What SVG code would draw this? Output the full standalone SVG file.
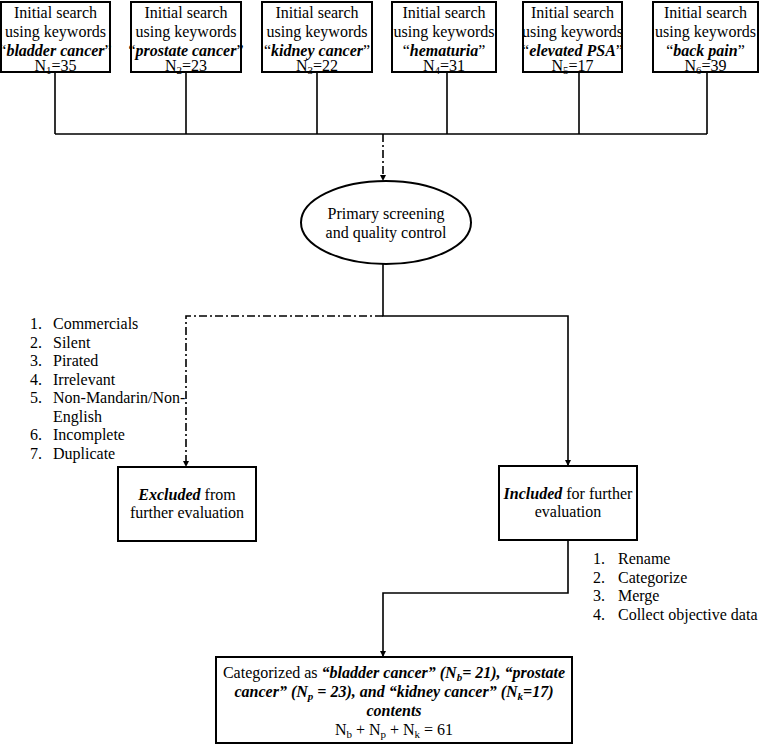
<svg xmlns="http://www.w3.org/2000/svg" width="764" height="746" viewBox="0 0 764 746" font-family="'Liberation Serif', 'Times New Roman', Tinos, 'DejaVu Serif', serif" font-size="16">
<defs>
<marker id="arr" viewBox="0 0 10 10" refX="10" refY="5" markerWidth="6" markerHeight="6" orient="auto" markerUnits="userSpaceOnUse">
<path d="M0,0 L10,5 L0,10 z" fill="#000"/>
</marker>
<style>
text{fill:#000}
.c{text-anchor:middle}
.bi{font-weight:bold;font-style:italic}
.box{fill:#fff;stroke:#000;stroke-width:2}
.ln{fill:none;stroke:#000;stroke-width:1.6}
.dd{fill:none;stroke:#000;stroke-width:1.6;stroke-dasharray:8 3 2 3}
.sub{font-size:11px}
</style>
</defs>
<rect width="764" height="746" fill="#fff"/>

<g id="connectors">
<path class="ln" d="M55,72 V134 M186,72 V134 M317,72 V134 M447,72 V134 M579,72 V134 M707,72 V134 M55,134 H707"/>
<path class="dd" d="M383,134 V181" marker-end="url(#arr)"/>
<path class="ln" d="M383,264 V316 H568 V466" marker-end="url(#arr)"/>
<path class="dd" d="M383,316 H186 V467" marker-end="url(#arr)"/>
<path class="ln" d="M568,540 V593 H383 V657" marker-end="url(#arr)"/>
</g>

<g id="n1">
<rect class="box" x="1" y="2" width="109" height="70"/>
<text class="c" x="55.5" y="18">Initial search</text>
<text class="c" x="55.5" y="37">using keywords</text>
<text class="c" x="55.5" y="56">“<tspan class="bi">bladder cancer</tspan>”</text>
<text class="c" x="55.5" y="71">N<tspan class="sub" dy="3">1</tspan><tspan dy="-3">=35</tspan></text>
</g>
<g id="n2">
<rect class="box" x="131" y="2" width="110" height="70"/>
<text class="c" x="186" y="18">Initial search</text>
<text class="c" x="186" y="37">using keywords</text>
<text class="c" x="186" y="56">“<tspan class="bi">prostate cancer</tspan>”</text>
<text class="c" x="186" y="71">N<tspan class="sub" dy="3">2</tspan><tspan dy="-3">=23</tspan></text>
</g>
<g id="n3">
<rect class="box" x="262" y="2" width="110" height="70"/>
<text class="c" x="317" y="18">Initial search</text>
<text class="c" x="317" y="37">using keywords</text>
<text class="c" x="317" y="56">“<tspan class="bi">kidney cancer</tspan>”</text>
<text class="c" x="317" y="71">N<tspan class="sub" dy="3">3</tspan><tspan dy="-3">=22</tspan></text>
</g>
<g id="n4">
<rect class="box" x="392" y="2" width="104" height="70"/>
<text class="c" x="444" y="18">Initial search</text>
<text class="c" x="444" y="37">using keywords</text>
<text class="c" x="444" y="56">“<tspan class="bi">hematuria</tspan>”</text>
<text class="c" x="444" y="71">N<tspan class="sub" dy="3">4</tspan><tspan dy="-3">=31</tspan></text>
</g>
<g id="n5">
<rect class="box" x="523" y="2" width="99" height="70"/>
<text class="c" x="572.5" y="18">Initial search</text>
<text class="c" x="572.5" y="37">using keywords</text>
<text class="c" x="572.5" y="56">“<tspan class="bi">elevated PSA</tspan>”</text>
<text class="c" x="572.5" y="71">N<tspan class="sub" dy="3">5</tspan><tspan dy="-3">=17</tspan></text>
</g>
<g id="n6">
<rect class="box" x="653" y="2" width="105" height="70"/>
<text class="c" x="705.5" y="18">Initial search</text>
<text class="c" x="705.5" y="37">using keywords</text>
<text class="c" x="705.5" y="56">“<tspan class="bi">back pain</tspan>”</text>
<text class="c" x="705.5" y="71">N<tspan class="sub" dy="3">6</tspan><tspan dy="-3">=39</tspan></text>
</g>

<g id="screening">
<ellipse class="box" cx="386" cy="222.5" rx="85" ry="41.5"/>
<text class="c" x="386" y="219">Primary screening</text>
<text class="c" x="386" y="238">and quality control</text>
</g>

<g id="exclusion-reasons">
<text x="30" y="329">1.</text><text x="53" y="329">Commercials</text>
<text x="30" y="347.5">2.</text><text x="53" y="347.5">Silent</text>
<text x="30" y="366">3.</text><text x="53" y="366">Pirated</text>
<text x="30" y="384.5">4.</text><text x="53" y="384.5">Irrelevant</text>
<text x="30" y="403">5.</text><text x="53" y="403">Non-Mandarin/Non-</text>
<text x="53" y="421.5">English</text>
<text x="30" y="440">6.</text><text x="53" y="440">Incomplete</text>
<text x="30" y="458.5">7.</text><text x="53" y="458.5">Duplicate</text>
</g>

<g id="excluded">
<rect class="box" x="118" y="467" width="138" height="74"/>
<text class="c" x="187" y="500"><tspan class="bi">Excluded</tspan> from</text>
<text class="c" x="187" y="518">further evaluation</text>
</g>

<g id="included">
<rect class="box" x="499" y="466" width="138" height="74"/>
<text class="c" x="568" y="499"><tspan class="bi">Included</tspan> for further</text>
<text class="c" x="568" y="517">evaluation</text>
</g>

<g id="processing-steps">
<text x="593" y="564">1.</text><text x="618" y="564">Rename</text>
<text x="593" y="582.5">2.</text><text x="618" y="582.5">Categorize</text>
<text x="593" y="601">3.</text><text x="618" y="601">Merge</text>
<text x="593" y="619.5">4.</text><text x="618" y="619.5">Collect objective data</text>
</g>

<g id="categorized">
<rect class="box" x="216" y="657" width="356" height="86"/>
<text class="c" x="394" y="678">Categorized as <tspan class="bi">“bladder cancer” (N<tspan class="sub" dy="3">b</tspan><tspan dy="-3">= 21), “prostate</tspan></tspan></text>
<text class="c bi" x="394" y="697">cancer” (N<tspan class="sub" dy="3">p</tspan><tspan dy="-3"> = 23), and “kidney cancer” (N</tspan><tspan class="sub" dy="3">k</tspan><tspan dy="-3">=17)</tspan></text>
<text class="c bi" x="394" y="716">contents</text>
<text class="c" x="394" y="735">N<tspan class="sub" dy="3">b</tspan><tspan dy="-3"> + N</tspan><tspan class="sub" dy="3">p</tspan><tspan dy="-3"> + N</tspan><tspan class="sub" dy="3">k</tspan><tspan dy="-3"> = 61</tspan></text>
</g>
</svg>
